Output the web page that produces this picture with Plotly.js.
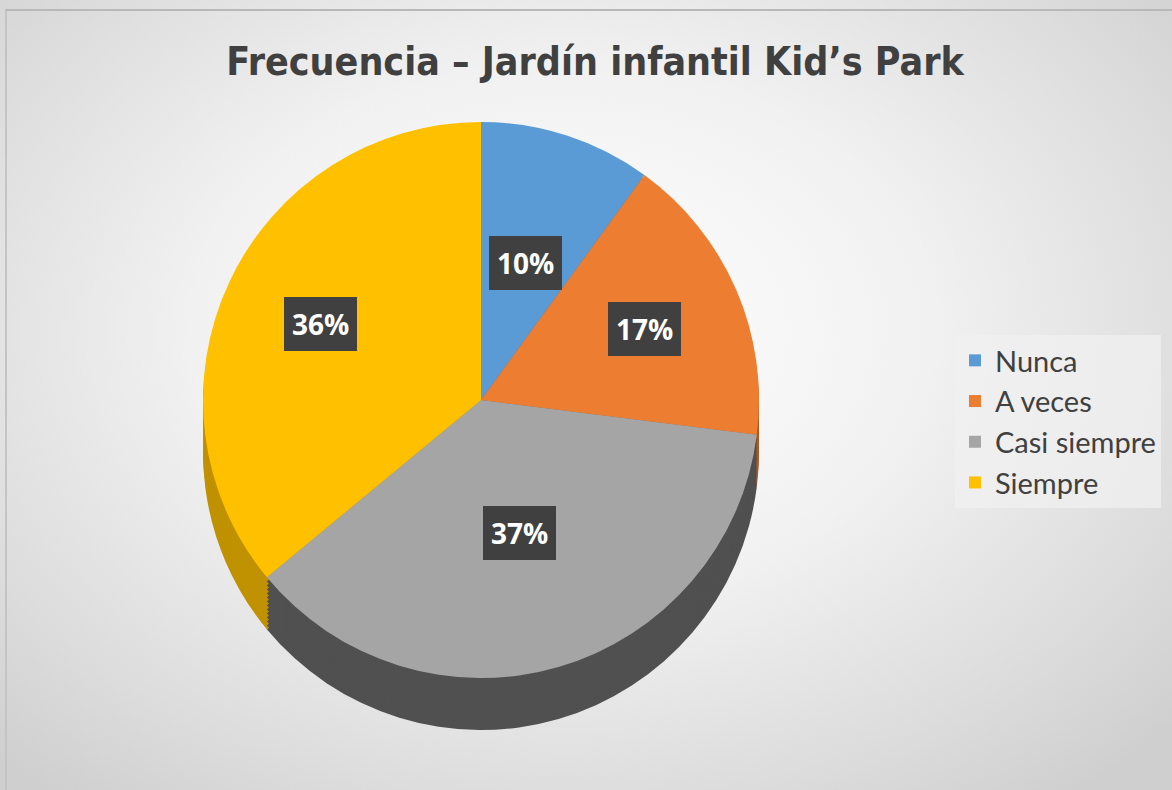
<!DOCTYPE html>
<html>
<head>
<meta charset="utf-8">
<script src="https://cdn.plot.ly/plotly-3.0.1.min.js"></script>
<style>
  html, body { margin: 0; padding: 0; width: 1172px; height: 790px; overflow: hidden; }
  body { background: radial-gradient(ellipse 70% 75% at 48% 42%, #ffffff 0%, #f1f1f1 45%, #dcdcdc 80%, #cfcfcf 100%); position: relative; }
  #frame { position: absolute; left: 5px; top: 9px; width: 1167px; height: 781px; border-top: 2px solid #b8b8b8; border-left: 2px solid #c4c4c4; box-sizing: border-box; pointer-events: none; }
  #chart { position: absolute; left: 0; top: 0; width: 1172px; height: 790px; }
</style>
</head>
<body>
<div id="frame"></div>
<div id="chart"></div>
<script>
// ---- data ----
const categories = ["Nunca", "A veces", "Casi siempre", "Siempre"];
const percentValues = [10, 17, 37, 36];
const topColors = ["#5B9BD5", "#ED7D31", "#A5A5A5", "#FFC000"];
const sideColors = ["#41719C", "#AE5A21", "#505050", "#C09100"];
const chartTitle = "Frecuencia – Jardín infantil Kid’s Park";

// ---- geometry (layout only) ----
const W = 1172, H = 790;
const cx = 481, cy = 400, r = 278;      // top face centre / radius in px
const depthLayers = 13, layerStep = 4;  // 3D side thickness

function domainFor(offsetPx) {
  return {
    x: [(cx - r) / W, (cx + r) / W],
    y: [1 - (cy + r + offsetPx) / H, 1 - (cy - r + offsetPx) / H]
  };
}

const traces = [];
for (let k = depthLayers; k >= 1; k--) {
  traces.push({
    type: "pie",
    labels: categories,
    values: percentValues,
    sort: false,
    direction: "clockwise",
    rotation: 0,
    domain: domainFor(k * layerStep),
    marker: { colors: sideColors, line: { width: 0 } },
    textinfo: "none",
    hoverinfo: "skip",
    showlegend: false
  });
}
traces.push({
  type: "pie",
  labels: categories,
  values: percentValues,
  sort: false,
  direction: "clockwise",
  rotation: 0,
  domain: domainFor(0),
  marker: { colors: topColors, line: { width: 0 } },
  textinfo: "none",
  hoverinfo: "label+percent",
  showlegend: true
});

// data labels placed at slice mid-angles, computed from the values
const total = percentValues.reduce((a, b) => a + b, 0);
const labelFrac = [0.52, 0.64, 0.5, 0.64];
let cum = 0;
const annotations = percentValues.map((v, i) => {
  const mid = (cum + v / 2) / total * 2 * Math.PI;
  cum += v;
  const px = cx + labelFrac[i] * r * Math.sin(mid);
  const py = cy - labelFrac[i] * r * Math.cos(mid);
  return {
    xref: "paper", yref: "paper",
    x: px / W, y: 1 - py / H,
    xanchor: "center", yanchor: "middle",
    text: Math.round(v / total * 100) + "%",
    showarrow: false,
    font: { family: "Open Sans, Liberation Sans, sans-serif", size: 28, color: "#ffffff", weight: "bold" },
    bgcolor: "#404040",
    borderpad: 8,
    borderwidth: 0
  };
});

const layout = {
  width: W, height: H,
  margin: { l: 0, r: 0, t: 0, b: 0 },
  paper_bgcolor: "rgba(0,0,0,0)",
  plot_bgcolor: "rgba(0,0,0,0)",
  title: {
    text: chartTitle,
    x: 595 / W, xanchor: "center",
    y: 1 - 61 / H, yanchor: "middle",
    font: { family: "DejaVu Sans Condensed, Liberation Sans, sans-serif", size: 39, color: "#404040", weight: "bold" }
  },
  legend: {
    x: 955 / W, xanchor: "left",
    y: 1 - 335 / H, yanchor: "top",
    bgcolor: "rgba(240,240,240,0.75)",
    borderwidth: 0,
    font: { family: "Lato, Open Sans, sans-serif", size: 29, color: "#404040" },
    traceorder: "normal"
  },
  annotations: annotations
};

Plotly.newPlot("chart", traces, layout, { displayModeBar: false });
</script>
</body>
</html>
